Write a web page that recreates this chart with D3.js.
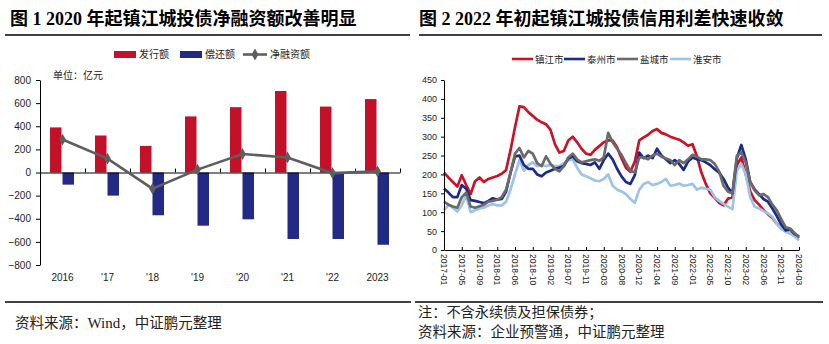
<!DOCTYPE html>
<html><head><meta charset="utf-8">
<script src="https://cdn.jsdelivr.net/npm/d3@7"></script>
<style>
body{margin:0;background:#fff;}
svg{display:block;}
.num{font-family:"Liberation Sans",Arial,sans-serif;fill:#222;}
.cjk{font-family:"Noto Sans CJK SC",sans-serif;fill:#222;}
.title{font-family:"Liberation Serif","Noto Sans CJK SC",serif;font-weight:bold;fill:#000;}
</style></head>
<body>
<svg id="c" width="829" height="344"></svg>
<script>
// ---------- Left chart data ----------
const leftCats = ["2016", "'17", "'18", "'19", "'20", "'21", "'22", "2023"];
const issueVals = [390, 320, 230, 485, 565, 705, 570, 635];
const repayVals = [-105, -200, -370, -460, -405, -575, -575, -625];
const netVals = [285, 120, -140, 25, 160, 130, -5, 10];
const leftTicks = [-800, -600, -400, -200, 0, 200, 400, 600, 800];
const leftLegend = ["发行额", "偿还额", "净融资额"];

// ---------- Right chart data (sampled 4 per tick interval) ----------
const dateLabels = ["2017-01","2017-05","2017-09","2018-01","2018-06","2018-10","2019-02","2019-07","2019-11","2020-03","2020-08","2020-12","2021-04","2021-09","2022-01","2022-05","2022-10","2023-02","2023-06","2023-11","2024-03"];
const rightTicks = [0, 50, 100, 150, 200, 250, 300, 350, 400, 450];
const zhenjiang = [205,192,180,168, 198,172,148,182, 192,180,188,192, 196,202,212,265,
  325,380,378,365, 355,345,338,333, 318,280,258,262, 290,300,285,268,
  255,252,265,275, 285,290,290,272, 243,218,207,234, 290,298,305,315,
  320,310,306,300, 296,292,285,276, 280,248,205,175, 150,138,125,118,
  136,140,225,245, 200,155,132,120, 106,95,85,70, 58,50,44,38, 31];
const taizhou = [163,152,140,140, 172,162,132,130, 127,124,130,137, 133,135,155,205,
  248,250,225,215, 215,200,195,205, 210,215,218,222, 242,248,235,230,
  228,225,232,215, 238,255,240,215, 195,180,175,198, 258,243,250,243,
  268,250,240,230, 238,228,212,234, 245,240,238,232, 225,214,205,188,
  165,150,243,278, 240,180,160,148, 135,128,110,90, 68,52,55,42, 36];
const yancheng = [128,120,115,112, 140,152,115,112, 116,120,128,130, 133,140,160,205,
  255,270,245,262, 255,230,222,248, 228,215,208,222, 245,255,240,232,
  235,238,240,236, 245,310,285,268, 252,230,210,205, 245,245,240,250,
  255,247,242,238, 225,238,230,240, 252,247,240,240, 238,228,208,170,
  154,150,250,258, 232,180,158,145, 148,140,120,105, 82,60,57,45, 34];
const huaian = [105,120,112,102, 118,145,100,105, 110,112,118,122, 118,118,128,160,
  200,238,210,225, 232,222,225,222, 225,222,222,230, 238,240,218,200,
  195,190,184,182, 188,200,170,160, 155,148,135,125, 160,175,180,172,
  175,180,188,170, 172,176,170,172, 175,160,165,162, 160,140,130,122,
  115,108,210,228, 200,140,115,110, 103,97,88,70, 56,48,44,36, 26];
const rightSeriesNames = ["镇江市", "泰州市", "盐城市", "淮安市"];

const svg = d3.select("#c");

// ---------- Titles and rules ----------
svg.append("text").attr("class","title").attr("x",10).attr("y",25).attr("font-size",18)
  .text("图 1 2020 年起镇江城投债净融资额改善明显");
svg.append("text").attr("class","title").attr("x",419).attr("y",25).attr("font-size",18)
  .text("图 2 2022 年初起镇江城投债信用利差快速收敛");
[[5,410,35],[419,822,35],[5,411,302],[415,823,302]].forEach(([a,b,y])=>{
  svg.append("line").attr("x1",a).attr("x2",b).attr("y1",y).attr("y2",y)
    .attr("stroke","#000").attr("stroke-width",1.6);
});
const src = svg.append("text").attr("class","cjk").attr("x",15).attr("y",328).attr("font-size",14.5).attr("fill","#000");
src.append("tspan").text("资料来源：");
src.append("tspan").attr("font-family","Liberation Serif, serif").attr("font-size",15).text("Wind");
src.append("tspan").text("，中证鹏元整理");
svg.append("text").attr("class","cjk").attr("x",418).attr("y",317).attr("font-size",14.2)
  .text("注：不含永续债及担保债券；");
svg.append("text").attr("class","cjk").attr("x",418).attr("y",337).attr("font-size",14.5)
  .text("资料来源：企业预警通，中证鹏元整理");

// ---------- Left chart ----------
const RED = "#c3112a", NAVY = "#232a83", GRAYL = "#5e5e5e";
const x0 = d3.scaleBand().domain(leftCats).range([40, 400]);
const x1 = d3.scaleBand().domain(["issue","repay"]).range([10, 34]).paddingInner(0.08);
const yL = d3.scaleLinear().domain([-800, 800]).range([265, 80]);
const gL = svg.append("g");

gL.selectAll("rect.issue").data(leftCats).join("rect")
  .attr("x", d => x0(d) + x1("issue")).attr("width", x1.bandwidth())
  .attr("y", (d,i) => yL(issueVals[i])).attr("height", (d,i) => yL(0) - yL(issueVals[i]))
  .attr("fill", RED);
gL.selectAll("rect.repay").data(leftCats).join("rect")
  .attr("x", d => x0(d) + x1("repay")).attr("width", x1.bandwidth())
  .attr("y", yL(0)).attr("height", (d,i) => yL(repayVals[i]) - yL(0))
  .attr("fill", NAVY);

const yAxisL = gL.append("g").attr("transform","translate(40,0)")
  .call(d3.axisLeft(yL).tickValues(leftTicks).tickSize(4).tickSizeOuter(0));
yAxisL.select(".domain").attr("stroke","#000");
yAxisL.selectAll("text").attr("class","num").attr("font-size",10).attr("dx",-2).attr("fill","#222");
yAxisL.selectAll("line").attr("stroke","#000");
const xAxisL = gL.append("g").attr("transform",`translate(0,${yL(0)})`)
  .call(d3.axisTop(d3.scaleLinear().domain([0,8]).range([40,400])).ticks(8).tickSize(4).tickSizeOuter(0).tickFormat(""));
xAxisL.select(".domain").attr("stroke","#000");
xAxisL.selectAll("line").attr("stroke","#000");
gL.selectAll("text.cat").data(leftCats).join("text").attr("class","num")
  .attr("x", d => x0(d) + x0.bandwidth()/2).attr("y", 281).attr("text-anchor","middle")
  .attr("font-size",10).text(d => d);

const lineL = d3.line().x((d,i) => x0(leftCats[i]) + x0.bandwidth()/2).y(d => yL(d));
gL.append("path").datum(netVals).attr("d", lineL).attr("fill","none")
  .attr("stroke", GRAYL).attr("stroke-width", 2.6);
const diamond = d3.symbol().type(d3.symbolDiamond).size(40);
gL.selectAll("path.mk").data(netVals).join("path")
  .attr("transform",(d,i)=>`translate(${x0(leftCats[i]) + x0.bandwidth()/2},${yL(d)})`)
  .attr("d", diamond()).attr("fill", GRAYL);

svg.append("text").attr("class","cjk").attr("x",53).attr("y",79).attr("font-size",10).text("单位：亿元");

const lgL = svg.append("g");
lgL.append("rect").attr("x",114).attr("y",51).attr("width",22).attr("height",7).attr("fill",RED);
lgL.append("text").attr("class","cjk").attr("x",139).attr("y",58).attr("font-size",10).text(leftLegend[0]);
lgL.append("rect").attr("x",180).attr("y",51).attr("width",22).attr("height",7).attr("fill",NAVY);
lgL.append("text").attr("class","cjk").attr("x",205).attr("y",58).attr("font-size",10).text(leftLegend[1]);
lgL.append("line").attr("x1",243).attr("x2",267).attr("y1",54.5).attr("y2",54.5).attr("stroke",GRAYL).attr("stroke-width",2.6);
lgL.append("path").attr("transform","translate(255,54.5)").attr("d",diamond()).attr("fill",GRAYL);
lgL.append("text").attr("class","cjk").attr("x",270).attr("y",58).attr("font-size",10).text(leftLegend[2]);

// ---------- Right chart ----------
const nS = zhenjiang.length;
const xR = d3.scaleLinear().domain([0, nS - 1]).range([444, 799]);
const yR = d3.scaleLinear().domain([0, 450]).range([250, 80]);
const gR = svg.append("g");
const colorsR = ["#cc1226", "#1c2a8c", "#6a6a6a", "#9dc3e6"];
const lineR = d3.line().x((d,i) => xR(i)).y(d => yR(d));
const seriesR = [zhenjiang, taizhou, yancheng, huaian];
const order = [0, 3, 1, 2];
order.forEach(k => {
  gR.append("path").datum(seriesR[k]).attr("d", lineR).attr("fill","none")
    .attr("stroke", colorsR[k]).attr("stroke-width", 2.7).attr("stroke-linejoin","round");
});
const yAxisR = gR.append("g").attr("transform","translate(444,0)")
  .call(d3.axisLeft(yR).tickValues(rightTicks).tickSize(3).tickSizeOuter(0));
yAxisR.select(".domain").attr("stroke","#000");
yAxisR.selectAll("line").attr("stroke","#000");
yAxisR.selectAll("text").attr("class","num").attr("font-size",9).attr("dx",-1).attr("fill","#222");

const tickIdx = dateLabels.map((d,i) => i * 4);
const xAxisR = gR.append("g").attr("transform","translate(0,250)")
  .call(d3.axisTop(xR).tickValues(tickIdx).tickSize(3).tickSizeOuter(0).tickFormat(""));
xAxisR.select(".domain").attr("stroke","#000");
xAxisR.selectAll("line").attr("stroke","#000");
gR.selectAll("text.dl").data(dateLabels).join("text").attr("class","num")
  .attr("transform",(d,i)=>`translate(${xR(i*4)-3},254) rotate(90)`)
  .attr("font-size",8.5).attr("text-anchor","start").text(d => d);

const lgPos = [512, 564, 617, 670];
rightSeriesNames.forEach((n,k) => {
  svg.append("line").attr("x1",lgPos[k]).attr("x2",lgPos[k]+21).attr("y1",59).attr("y2",59)
    .attr("stroke",colorsR[k]).attr("stroke-width",2.6);
  svg.append("text").attr("class","cjk").attr("x",lgPos[k]+23).attr("y",62.5).attr("font-size",9.5).text(n);
});
</script>
</body></html>
